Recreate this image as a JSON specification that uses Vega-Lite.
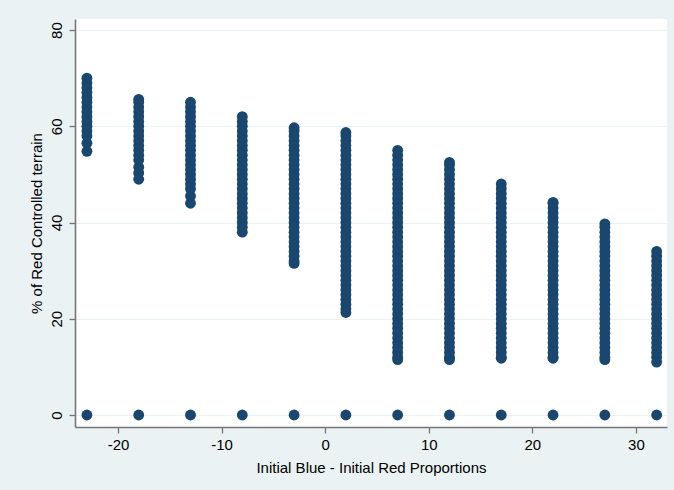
{
  "$schema": "https://vega.github.io/schema/vega-lite/v6.json",
  "width": 592,
  "height": 408,
  "autosize": {"type": "none"},
  "padding": {"left": 75, "top": 19, "right": 7, "bottom": 63},
  "background": "#eaf2f3",
  "config": {
    "view": {"fill": "white", "stroke": null},
    "font": "Liberation Sans",
    "axis": {"labelFont": "Liberation Sans", "titleFont": "Liberation Sans", "labelColor": "black", "titleColor": "black", "titleFontWeight": "normal", "labelFontSize": 15, "titleFontSize": 15, "domainColor": "#767676", "domainWidth": 1.6, "tickColor": "#767676", "tickWidth": 1.3, "tickSize": 6, "gridColor": "#eaf2f3", "gridWidth": 1.2}
  },
  "data": {"values": [
    {"x":-23,"y":70},{"x":-23,"y":69},{"x":-23,"y":68},{"x":-23,"y":67},{"x":-23,"y":66},{"x":-23,"y":65},{"x":-23,"y":64},{"x":-23,"y":63},{"x":-23,"y":62},{"x":-23,"y":61},{"x":-23,"y":60},{"x":-23,"y":59},{"x":-23,"y":58},{"x":-23,"y":56.5},{"x":-23,"y":54.8},{"x":-23,"y":0},
    {"x":-18,"y":65.6},{"x":-18,"y":65},{"x":-18,"y":64},{"x":-18,"y":63},{"x":-18,"y":62},{"x":-18,"y":61},{"x":-18,"y":60},{"x":-18,"y":59},{"x":-18,"y":58},{"x":-18,"y":57},{"x":-18,"y":56},{"x":-18,"y":55},{"x":-18,"y":54},{"x":-18,"y":53},{"x":-18,"y":51.5},{"x":-18,"y":50.3},{"x":-18,"y":49},{"x":-18,"y":0},
    {"x":-13,"y":65},{"x":-13,"y":64},{"x":-13,"y":63},{"x":-13,"y":62},{"x":-13,"y":61},{"x":-13,"y":60},{"x":-13,"y":59},{"x":-13,"y":58},{"x":-13,"y":57},{"x":-13,"y":56},{"x":-13,"y":55},{"x":-13,"y":54},{"x":-13,"y":53},{"x":-13,"y":52},{"x":-13,"y":51},{"x":-13,"y":50},{"x":-13,"y":49},{"x":-13,"y":48},{"x":-13,"y":47},{"x":-13,"y":45.5},{"x":-13,"y":44},{"x":-13,"y":0},
    {"x":-8,"y":62},{"x":-8,"y":61},{"x":-8,"y":60},{"x":-8,"y":59},{"x":-8,"y":58},{"x":-8,"y":57},{"x":-8,"y":56},{"x":-8,"y":55},{"x":-8,"y":54},{"x":-8,"y":53},{"x":-8,"y":52},{"x":-8,"y":51},{"x":-8,"y":50},{"x":-8,"y":49},{"x":-8,"y":48},{"x":-8,"y":47},{"x":-8,"y":46},{"x":-8,"y":45},{"x":-8,"y":44},{"x":-8,"y":43},{"x":-8,"y":42},{"x":-8,"y":41},{"x":-8,"y":40},{"x":-8,"y":39},{"x":-8,"y":38},{"x":-8,"y":0},
    {"x":-3,"y":59.7},{"x":-3,"y":59},{"x":-3,"y":58},{"x":-3,"y":57},{"x":-3,"y":56},{"x":-3,"y":55},{"x":-3,"y":54},{"x":-3,"y":53},{"x":-3,"y":52},{"x":-3,"y":51},{"x":-3,"y":50},{"x":-3,"y":49},{"x":-3,"y":48},{"x":-3,"y":47},{"x":-3,"y":46},{"x":-3,"y":45},{"x":-3,"y":44},{"x":-3,"y":43},{"x":-3,"y":42},{"x":-3,"y":41},{"x":-3,"y":40},{"x":-3,"y":39},{"x":-3,"y":38},{"x":-3,"y":37},{"x":-3,"y":36},{"x":-3,"y":35},{"x":-3,"y":34},{"x":-3,"y":33},{"x":-3,"y":32},{"x":-3,"y":31.5},{"x":-3,"y":0},
    {"x":2,"y":58.7},{"x":2,"y":58},{"x":2,"y":57},{"x":2,"y":56},{"x":2,"y":55},{"x":2,"y":54},{"x":2,"y":53},{"x":2,"y":52},{"x":2,"y":51},{"x":2,"y":50},{"x":2,"y":49},{"x":2,"y":48},{"x":2,"y":47},{"x":2,"y":46},{"x":2,"y":45},{"x":2,"y":44},{"x":2,"y":43},{"x":2,"y":42},{"x":2,"y":41},{"x":2,"y":40},{"x":2,"y":39},{"x":2,"y":38},{"x":2,"y":37},{"x":2,"y":36},{"x":2,"y":35},{"x":2,"y":34},{"x":2,"y":33},{"x":2,"y":32},{"x":2,"y":31},{"x":2,"y":30},{"x":2,"y":29},{"x":2,"y":28},{"x":2,"y":27},{"x":2,"y":26},{"x":2,"y":25},{"x":2,"y":24},{"x":2,"y":23},{"x":2,"y":22},{"x":2,"y":21.3},{"x":2,"y":0},
    {"x":7,"y":55},{"x":7,"y":54},{"x":7,"y":53},{"x":7,"y":52},{"x":7,"y":51},{"x":7,"y":50},{"x":7,"y":49},{"x":7,"y":48},{"x":7,"y":47},{"x":7,"y":46},{"x":7,"y":45},{"x":7,"y":44},{"x":7,"y":43},{"x":7,"y":42},{"x":7,"y":41},{"x":7,"y":40},{"x":7,"y":39},{"x":7,"y":38},{"x":7,"y":37},{"x":7,"y":36},{"x":7,"y":35},{"x":7,"y":34},{"x":7,"y":33},{"x":7,"y":32},{"x":7,"y":31},{"x":7,"y":30},{"x":7,"y":29},{"x":7,"y":28},{"x":7,"y":27},{"x":7,"y":26},{"x":7,"y":25},{"x":7,"y":24},{"x":7,"y":23},{"x":7,"y":22},{"x":7,"y":21},{"x":7,"y":20},{"x":7,"y":19},{"x":7,"y":18},{"x":7,"y":17},{"x":7,"y":16},{"x":7,"y":15},{"x":7,"y":14},{"x":7,"y":13},{"x":7,"y":12},{"x":7,"y":11.5},{"x":7,"y":0},
    {"x":12,"y":52.5},{"x":12,"y":52},{"x":12,"y":51},{"x":12,"y":50},{"x":12,"y":49},{"x":12,"y":48},{"x":12,"y":47},{"x":12,"y":46},{"x":12,"y":45},{"x":12,"y":44},{"x":12,"y":43},{"x":12,"y":42},{"x":12,"y":41},{"x":12,"y":40},{"x":12,"y":39},{"x":12,"y":38},{"x":12,"y":37},{"x":12,"y":36},{"x":12,"y":35},{"x":12,"y":34},{"x":12,"y":33},{"x":12,"y":32},{"x":12,"y":31},{"x":12,"y":30},{"x":12,"y":29},{"x":12,"y":28},{"x":12,"y":27},{"x":12,"y":26},{"x":12,"y":25},{"x":12,"y":24},{"x":12,"y":23},{"x":12,"y":22},{"x":12,"y":21},{"x":12,"y":20},{"x":12,"y":19},{"x":12,"y":18},{"x":12,"y":17},{"x":12,"y":16},{"x":12,"y":15},{"x":12,"y":14},{"x":12,"y":13},{"x":12,"y":12},{"x":12,"y":11.5},{"x":12,"y":0},
    {"x":17,"y":48},{"x":17,"y":47},{"x":17,"y":46},{"x":17,"y":45},{"x":17,"y":44},{"x":17,"y":43},{"x":17,"y":42},{"x":17,"y":41},{"x":17,"y":40},{"x":17,"y":39},{"x":17,"y":38},{"x":17,"y":37},{"x":17,"y":36},{"x":17,"y":35},{"x":17,"y":34},{"x":17,"y":33},{"x":17,"y":32},{"x":17,"y":31},{"x":17,"y":30},{"x":17,"y":29},{"x":17,"y":28},{"x":17,"y":27},{"x":17,"y":26},{"x":17,"y":25},{"x":17,"y":24},{"x":17,"y":23},{"x":17,"y":22},{"x":17,"y":21},{"x":17,"y":20},{"x":17,"y":19},{"x":17,"y":18},{"x":17,"y":17},{"x":17,"y":16},{"x":17,"y":15},{"x":17,"y":14},{"x":17,"y":13},{"x":17,"y":12},{"x":17,"y":11.8},{"x":17,"y":0},
    {"x":22,"y":44.2},{"x":22,"y":44},{"x":22,"y":43},{"x":22,"y":42},{"x":22,"y":41},{"x":22,"y":40},{"x":22,"y":39},{"x":22,"y":38},{"x":22,"y":37},{"x":22,"y":36},{"x":22,"y":35},{"x":22,"y":34},{"x":22,"y":33},{"x":22,"y":32},{"x":22,"y":31},{"x":22,"y":30},{"x":22,"y":29},{"x":22,"y":28},{"x":22,"y":27},{"x":22,"y":26},{"x":22,"y":25},{"x":22,"y":24},{"x":22,"y":23},{"x":22,"y":22},{"x":22,"y":21},{"x":22,"y":20},{"x":22,"y":19},{"x":22,"y":18},{"x":22,"y":17},{"x":22,"y":16},{"x":22,"y":15},{"x":22,"y":14},{"x":22,"y":13},{"x":22,"y":12},{"x":22,"y":11.8},{"x":22,"y":0},
    {"x":27,"y":39.7},{"x":27,"y":39},{"x":27,"y":38},{"x":27,"y":37},{"x":27,"y":36},{"x":27,"y":35},{"x":27,"y":34},{"x":27,"y":33},{"x":27,"y":32},{"x":27,"y":31},{"x":27,"y":30},{"x":27,"y":29},{"x":27,"y":28},{"x":27,"y":27},{"x":27,"y":26},{"x":27,"y":25},{"x":27,"y":24},{"x":27,"y":23},{"x":27,"y":22},{"x":27,"y":21},{"x":27,"y":20},{"x":27,"y":19},{"x":27,"y":18},{"x":27,"y":17},{"x":27,"y":16},{"x":27,"y":15},{"x":27,"y":14},{"x":27,"y":13},{"x":27,"y":12},{"x":27,"y":11.5},{"x":27,"y":0},
    {"x":32,"y":34},{"x":32,"y":33},{"x":32,"y":32},{"x":32,"y":31},{"x":32,"y":30},{"x":32,"y":29},{"x":32,"y":28},{"x":32,"y":27},{"x":32,"y":26},{"x":32,"y":25},{"x":32,"y":24},{"x":32,"y":23},{"x":32,"y":22},{"x":32,"y":21},{"x":32,"y":20},{"x":32,"y":19},{"x":32,"y":18},{"x":32,"y":17},{"x":32,"y":16},{"x":32,"y":15},{"x":32,"y":14},{"x":32,"y":13},{"x":32,"y":12},{"x":32,"y":11},{"x":32,"y":0}
  ]},
  "mark": {"type": "point", "shape": "circle", "filled": true, "size": 118, "color": "#1a476f", "opacity": 1},
  "encoding": {
    "x": {"field": "x", "type": "quantitative", "title": "Initial Blue - Initial Red Proportions",
      "scale": {"domain": [-24.15, 33], "nice": false, "zero": false},
      "axis": {"values": [-20, -10, 0, 10, 20, 30], "grid": false, "labelExpr": "datum.value", "labelPadding": 4, "titlePadding": 8}},
    "y": {"field": "y", "type": "quantitative", "title": "% of Red Controlled terrain",
      "scale": {"domain": [-2.5, 82.3], "nice": false, "zero": false},
      "axis": {"values": [0, 20, 40, 60, 80], "grid": true, "labelAngle": -90, "labelAlign": "center", "labelBaseline": "bottom", "labelPadding": 5, "titlePadding": 5, "labelExpr": "datum.value"}}
  }
}
